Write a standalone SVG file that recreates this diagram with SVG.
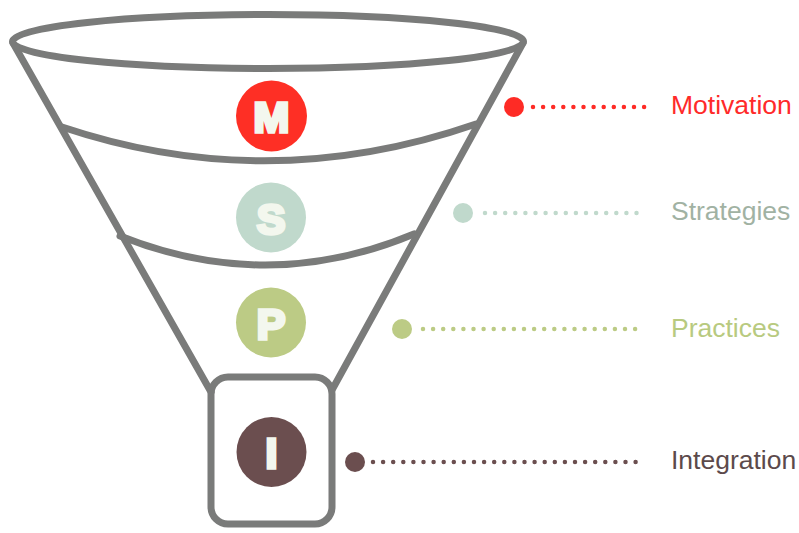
<svg xmlns="http://www.w3.org/2000/svg" width="799" height="533" viewBox="0 0 799 533">
  <style>
    .funnel { fill: none; stroke: #7a7b7a; stroke-width: 7; stroke-linecap: round; stroke-linejoin: round; }
    .badge-letter { font-family: "Liberation Sans", Arial, sans-serif; font-weight: bold; font-size: 43px; fill: #f3f7ee; stroke: #f3f7ee; stroke-width: 3.5; stroke-linejoin: miter; text-anchor: middle; }
    .label { font-family: "Liberation Sans", Arial, sans-serif; font-size: 26.5px; }
    .dots { fill: none; stroke-width: 4.5; stroke-linecap: round; stroke-dasharray: 0 10.1; }
  </style>

  <!-- funnel outline -->
  <g id="funnel">
    <ellipse class="funnel" cx="268" cy="41.5" rx="255.5" ry="27"/>
    <path class="funnel" d="M13 43 L211 392"/>
    <path class="funnel" d="M523 43 L332 390"/>
    <path class="funnel" d="M62 127 Q268 196 476 124"/>
    <path class="funnel" d="M120 236 Q268 295 414 234"/>
    <rect class="funnel" x="211" y="377" width="121" height="147" rx="17" ry="17"/>
  </g>

  <!-- connectors: dot + dotted leader to each label -->
  <g id="connectors">
    <circle cx="514" cy="107" r="10" fill="#fe2b25"/>
    <line class="dots" x1="533" y1="107" x2="645" y2="107" stroke="#fe2b25"/>

    <circle cx="463" cy="213" r="10" fill="#c0d9cc"/>
    <line class="dots" x1="485" y1="213" x2="638" y2="213" stroke="#c0d9cc"/>

    <circle cx="402" cy="329" r="10" fill="#bccb85"/>
    <line class="dots" x1="423" y1="329" x2="637" y2="329" stroke="#bccb85"/>

    <circle cx="355" cy="462" r="10" fill="#6b4e4f"/>
    <line class="dots" x1="373" y1="462" x2="637" y2="462" stroke="#6b4e4f"/>
  </g>

  <g id="motivation">
    <circle cx="271.5" cy="116" r="35.5" fill="#fe2f25"/>
    <text class="badge-letter" x="271.5" y="132">M</text>
    <text class="label" x="671" y="114" fill="#ff2a2a">Motivation</text>
  </g>

  <g id="strategies">
    <circle cx="271" cy="217.5" r="35" fill="#c0d9cc"/>
    <text class="badge-letter" x="271" y="233.5">S</text>
    <text class="label" x="671" y="220" fill="#a1b2a3">Strategies</text>
  </g>

  <g id="practices">
    <circle cx="271" cy="322.5" r="35" fill="#bccb85"/>
    <text class="badge-letter" x="271" y="338.5">P</text>
    <text class="label" x="671" y="337" fill="#b8ca80">Practices</text>
  </g>

  <g id="integration">
    <circle cx="271.5" cy="452" r="35" fill="#6b4e4f"/>
    <text class="badge-letter" x="271.5" y="468">I</text>
    <text class="label" x="671" y="469" fill="#5c4a4b">Integration</text>
  </g>
</svg>
